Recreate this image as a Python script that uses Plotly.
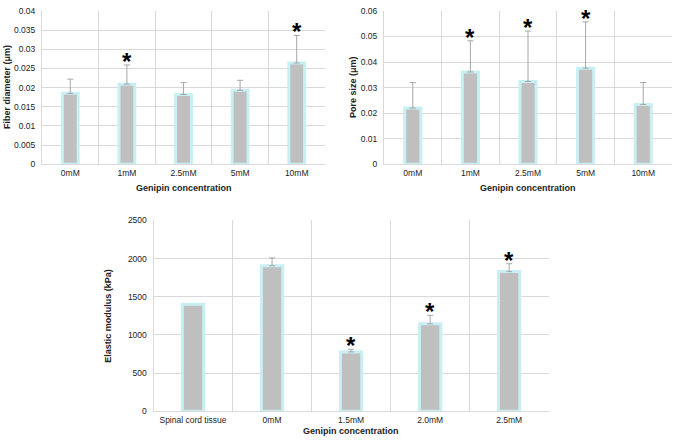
import plotly.graph_objects as go

# ---- Data ----
cats1 = ["0mM", "1mM", "2.5mM", "5mM", "10mM"]
fiber_mean = [0.0185, 0.0209, 0.0182, 0.0193, 0.0264]
fiber_top = [0.0222, 0.0259, 0.0213, 0.0219, 0.0336]
fiber_sig = [False, True, False, False, True]
fiber_ticks = [0, 0.005, 0.01, 0.015, 0.02, 0.025, 0.03, 0.035, 0.04]
fiber_ticktext = ["0", "0.005", "0.01", "0.015", "0.02", "0.025", "0.03", "0.035", "0.04"]

cats2 = ["0mM", "1mM", "2.5mM", "5mM", "10mM"]
pore_mean = [0.0220, 0.0361, 0.0324, 0.0376, 0.0234]
pore_top = [0.0320, 0.0483, 0.0521, 0.0557, 0.0320]
pore_sig = [False, True, True, True, False]
pore_ticks = [0, 0.01, 0.02, 0.03, 0.04, 0.05, 0.06]
pore_ticktext = ["0", "0.01", "0.02", "0.03", "0.04", "0.05", "0.06"]

cats3 = ["Spinal cord tissue", "0mM", "1.5mM", "2.0mM", "2.5mM"]
mod_mean = [1400, 1906, 778, 1145, 1829]
mod_top = [None, 2008, 812, 1256, 1932]
mod_sig = [False, False, True, True, True]
mod_ticks = [0, 500, 1000, 1500, 2000, 2500]
mod_ticktext = ["0", "500", "1000", "1500", "2000", "2500"]

FONT = "Liberation Sans, Arial, sans-serif"
BAR = "#bfbfbf"
GLOW = "#c8f0f4"
GRID = "#d9d9d9"
ERR = "#a6a6a6"

fig = go.Figure()

def add_panel(idx, cats, mean, top, sig, bw):
    xs = list(range(len(cats)))
    xa = "x" if idx == 1 else f"x{idx}"
    ya = "y" if idx == 1 else f"y{idx}"
    fig.add_trace(go.Bar(
        x=xs, y=mean, width=bw, xaxis=xa, yaxis=ya,
        marker=dict(color=BAR, line=dict(color=GLOW, width=3)),
        showlegend=False, hoverinfo="skip"))
    ex = [x for x, t in zip(xs, top) if t is not None]
    ey = [m for m, t in zip(mean, top) if t is not None]
    ee = [t - m for m, t in zip(mean, top) if t is not None]
    fig.add_trace(go.Scatter(
        x=ex, y=ey, xaxis=xa, yaxis=ya, mode="markers",
        marker=dict(size=1, color="rgba(0,0,0,0)"),
        error_y=dict(type="data", symmetric=False, array=ee,
                     arrayminus=[0] * len(ee),
                     color=ERR, thickness=1, width=3),
        showlegend=False, hoverinfo="skip"))
    for x, t, s in zip(xs, top, sig):
        if s:
            fig.add_annotation(x=x, y=t, xref=xa, yref=ya, text="<b>*</b>",
                               showarrow=False, yanchor="bottom", yshift=-12,
                               font=dict(family=FONT, size=24, color="black"))

add_panel(1, cats1, fiber_mean, fiber_top, fiber_sig, 0.28)
add_panel(2, cats2, pore_mean, pore_top, pore_sig, 0.28)
add_panel(3, cats3, mod_mean, mod_top, mod_sig, 0.27)

H = 443.0
W = 675.0

def xaxis_cfg(cats, dom):
    return dict(domain=dom, range=[-0.5, len(cats) - 0.5],
                tickvals=list(range(len(cats))), ticktext=cats,
                showgrid=False, zeroline=False, showline=True,
                linecolor=GRID, linewidth=1, ticks="",
                tickfont=dict(family=FONT, size=8.5, color="#222"),
                minor=dict(tick0=0.5, dtick=1, showgrid=True,
                           gridcolor=GRID, gridwidth=1, ticks=""),
                fixedrange=True)

def yaxis_cfg(rng, tv, tt, dom, anchor):
    return dict(domain=dom, range=rng, tickvals=tv, ticktext=tt,
                showgrid=True, gridcolor=GRID, gridwidth=1,
                zeroline=False, showline=True, linecolor=GRID, linewidth=1,
                ticks="", ticklabelstandoff=4, anchor=anchor,
                tickfont=dict(family=FONT, size=8.5, color="#222"),
                fixedrange=True)

fig.update_layout(
    width=675, height=443,
    margin=dict(l=0, r=0, t=0, b=0),
    paper_bgcolor="white", plot_bgcolor="white",
    bargap=0,
    xaxis=dict(**xaxis_cfg(cats1, [42 / W, 325 / W]), anchor="y"),
    yaxis=yaxis_cfg([0, 0.04], fiber_ticks, fiber_ticktext,
                    [1 - 163 / H, 1 - 6 / H], "x"),
    xaxis2=dict(**xaxis_cfg(cats2, [384 / W, 672 / W]), anchor="y2"),
    yaxis2=yaxis_cfg([0, 0.06], pore_ticks, pore_ticktext,
                     [1 - 163 / H, 1 - 6 / H], "x2"),
    xaxis3=dict(**xaxis_cfg(cats3, [153.5 / W, 548.7 / W]), anchor="y3"),
    yaxis3=yaxis_cfg([0, 2500], mod_ticks, mod_ticktext,
                     [1 - 415.7 / H, 1 - 220.3 / H], "x3"),
)

def label(text, x, y, angle=0):
    fig.add_annotation(x=x / W, y=1 - y / H, xref="paper", yref="paper",
                       text=f"<b>{text}</b>", showarrow=False, textangle=angle,
                       xanchor="center", yanchor="middle",
                       font=dict(family=FONT, size=9, color="#222"))

label("Genipin concentration", 183.5, 187)
label("Genipin concentration", 528, 187)
label("Genipin concentration", 351, 436)
label("Fiber diameter (μm)", 7, 84, -90)
label("Pore size (μm)", 353, 84, -90)
label("Elastic modulus (kPa)", 108, 318, -90)

fig.write_html("out.html",
               config={"displayModeBar": False, "staticPlot": True},
               post_script="document.body.style.margin='0px';")
